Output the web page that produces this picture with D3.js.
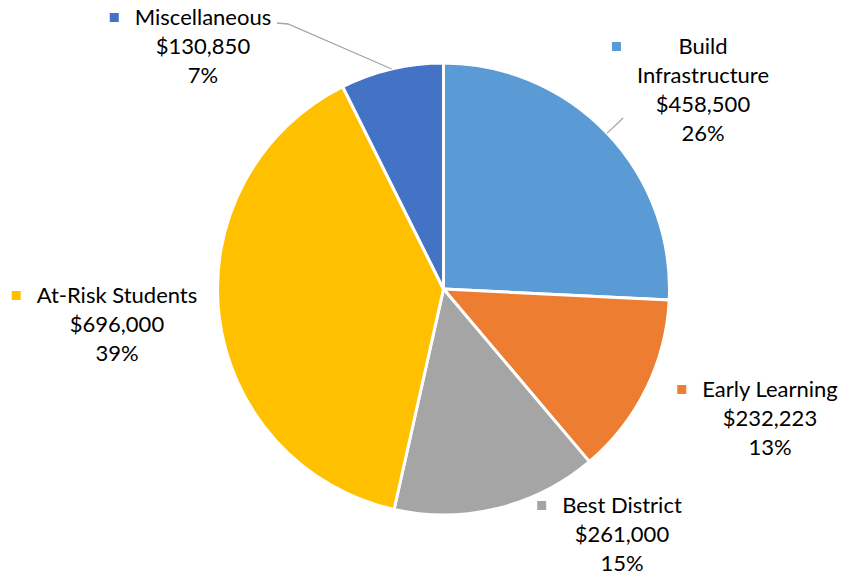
<!DOCTYPE html>
<html>
<head>
<meta charset="utf-8">
<script src="https://cdn.jsdelivr.net/npm/d3@7"></script>
<style>
  body { margin: 0; background: #fff; }
  svg { display: block; }
</style>
</head>
<body>
<div id="pieChart"></div>
<script>
// data
const categories = ['Build Infrastructure', 'Early Learning', 'Best District', 'At-Risk Students', 'Miscellaneous'];
const amounts = [458500, 232223, 261000, 696000, 130850];
const nameLines = [['Build', 'Infrastructure'], ['Early Learning'], ['Best District'], ['At-Risk Students'], ['Miscellaneous']];
const colors = ['#5B9BD5', '#ED7D31', '#A5A5A5', '#FFC000', '#4472C4'];

// label placement (center x, baseline of first line) -- layout only
const labelPos = [[703, 54], [770, 397], [622, 513], [117, 303], [203, 25]];
const leaderElbow = [null, null, null, null, [277, 23]]; // misc label has an elbow

let width = 849, height = 575;
let cx = 443.5, cy = 289, radius = 226;
let lineGap = 29;

let svg = d3.select('#pieChart')
  .append('svg')
  .attr('width', width)
  .attr('height', height);

let data = categories.map((c, i) => ({ name: c, value: amounts[i], lines: nameLines[i], color: colors[i], i: i }));
let total = d3.sum(amounts);

let pie = d3.pie().sort(null).value(d => d.value);
let arc = d3.arc().innerRadius(0).outerRadius(radius);
let arcs = pie(data);

let g = svg.append('g').attr('transform', `translate(${cx},${cy})`);

g.selectAll('path')
  .data(arcs)
  .enter()
  .append('path')
  .attr('d', arc)
  .attr('fill', d => d.data.color)
  .attr('stroke', '#fff')
  .attr('stroke-width', 3)
  .attr('stroke-linejoin', 'round');

let fmt = d3.format('$,');
let pct = v => Math.round(v / total * 100) + '%';

// leader lines (only where the label sits away from the pie)
arcs.forEach((a, i) => {
  let mid = (a.startAngle + a.endAngle) / 2;
  let ex = cx + Math.sin(mid) * radius, ey = cy - Math.cos(mid) * radius;
  let pts = null;
  if (i === 0) pts = [[ex, ey], [cx + Math.sin(mid) * (radius + 22), cy - Math.cos(mid) * (radius + 22)]];
  if (i === 4) pts = [[ex, ey], [288, 24], leaderElbow[i]];
  if (!pts) return;
  svg.append('path')
    .attr('d', d3.line()(pts))
    .attr('fill', 'none')
    .attr('stroke', '#A6A6A6')
    .attr('stroke-width', 1.3);
});

// labels
let labels = svg.selectAll('.label')
  .data(arcs)
  .enter()
  .append('g')
  .attr('class', 'label');

labels.each(function(a, i) {
  let sel = d3.select(this);
  let [lx, ly] = labelPos[i];
  let lines = a.data.lines.concat([fmt(a.data.value), pct(a.data.value)]);
  let maxW = 0;
  lines.forEach((t, k) => {
    let txt = sel.append('text')
      .attr('x', lx)
      .attr('y', ly + k * lineGap)
      .attr('text-anchor', 'middle')
      .style('font-family', 'Lato, "Open Sans", sans-serif')
      .style('font-size', '22px')
      .style('fill', '#000')
      .text(t);
    maxW = Math.max(maxW, txt.node().getComputedTextLength());
  });
  sel.append('rect')
    .attr('x', lx - maxW / 2 - 16 - 9)
    .attr('y', ly - 8 - 4)
    .attr('width', 9)
    .attr('height', 9)
    .attr('fill', a.data.color);
});
</script>
</body>
</html>
